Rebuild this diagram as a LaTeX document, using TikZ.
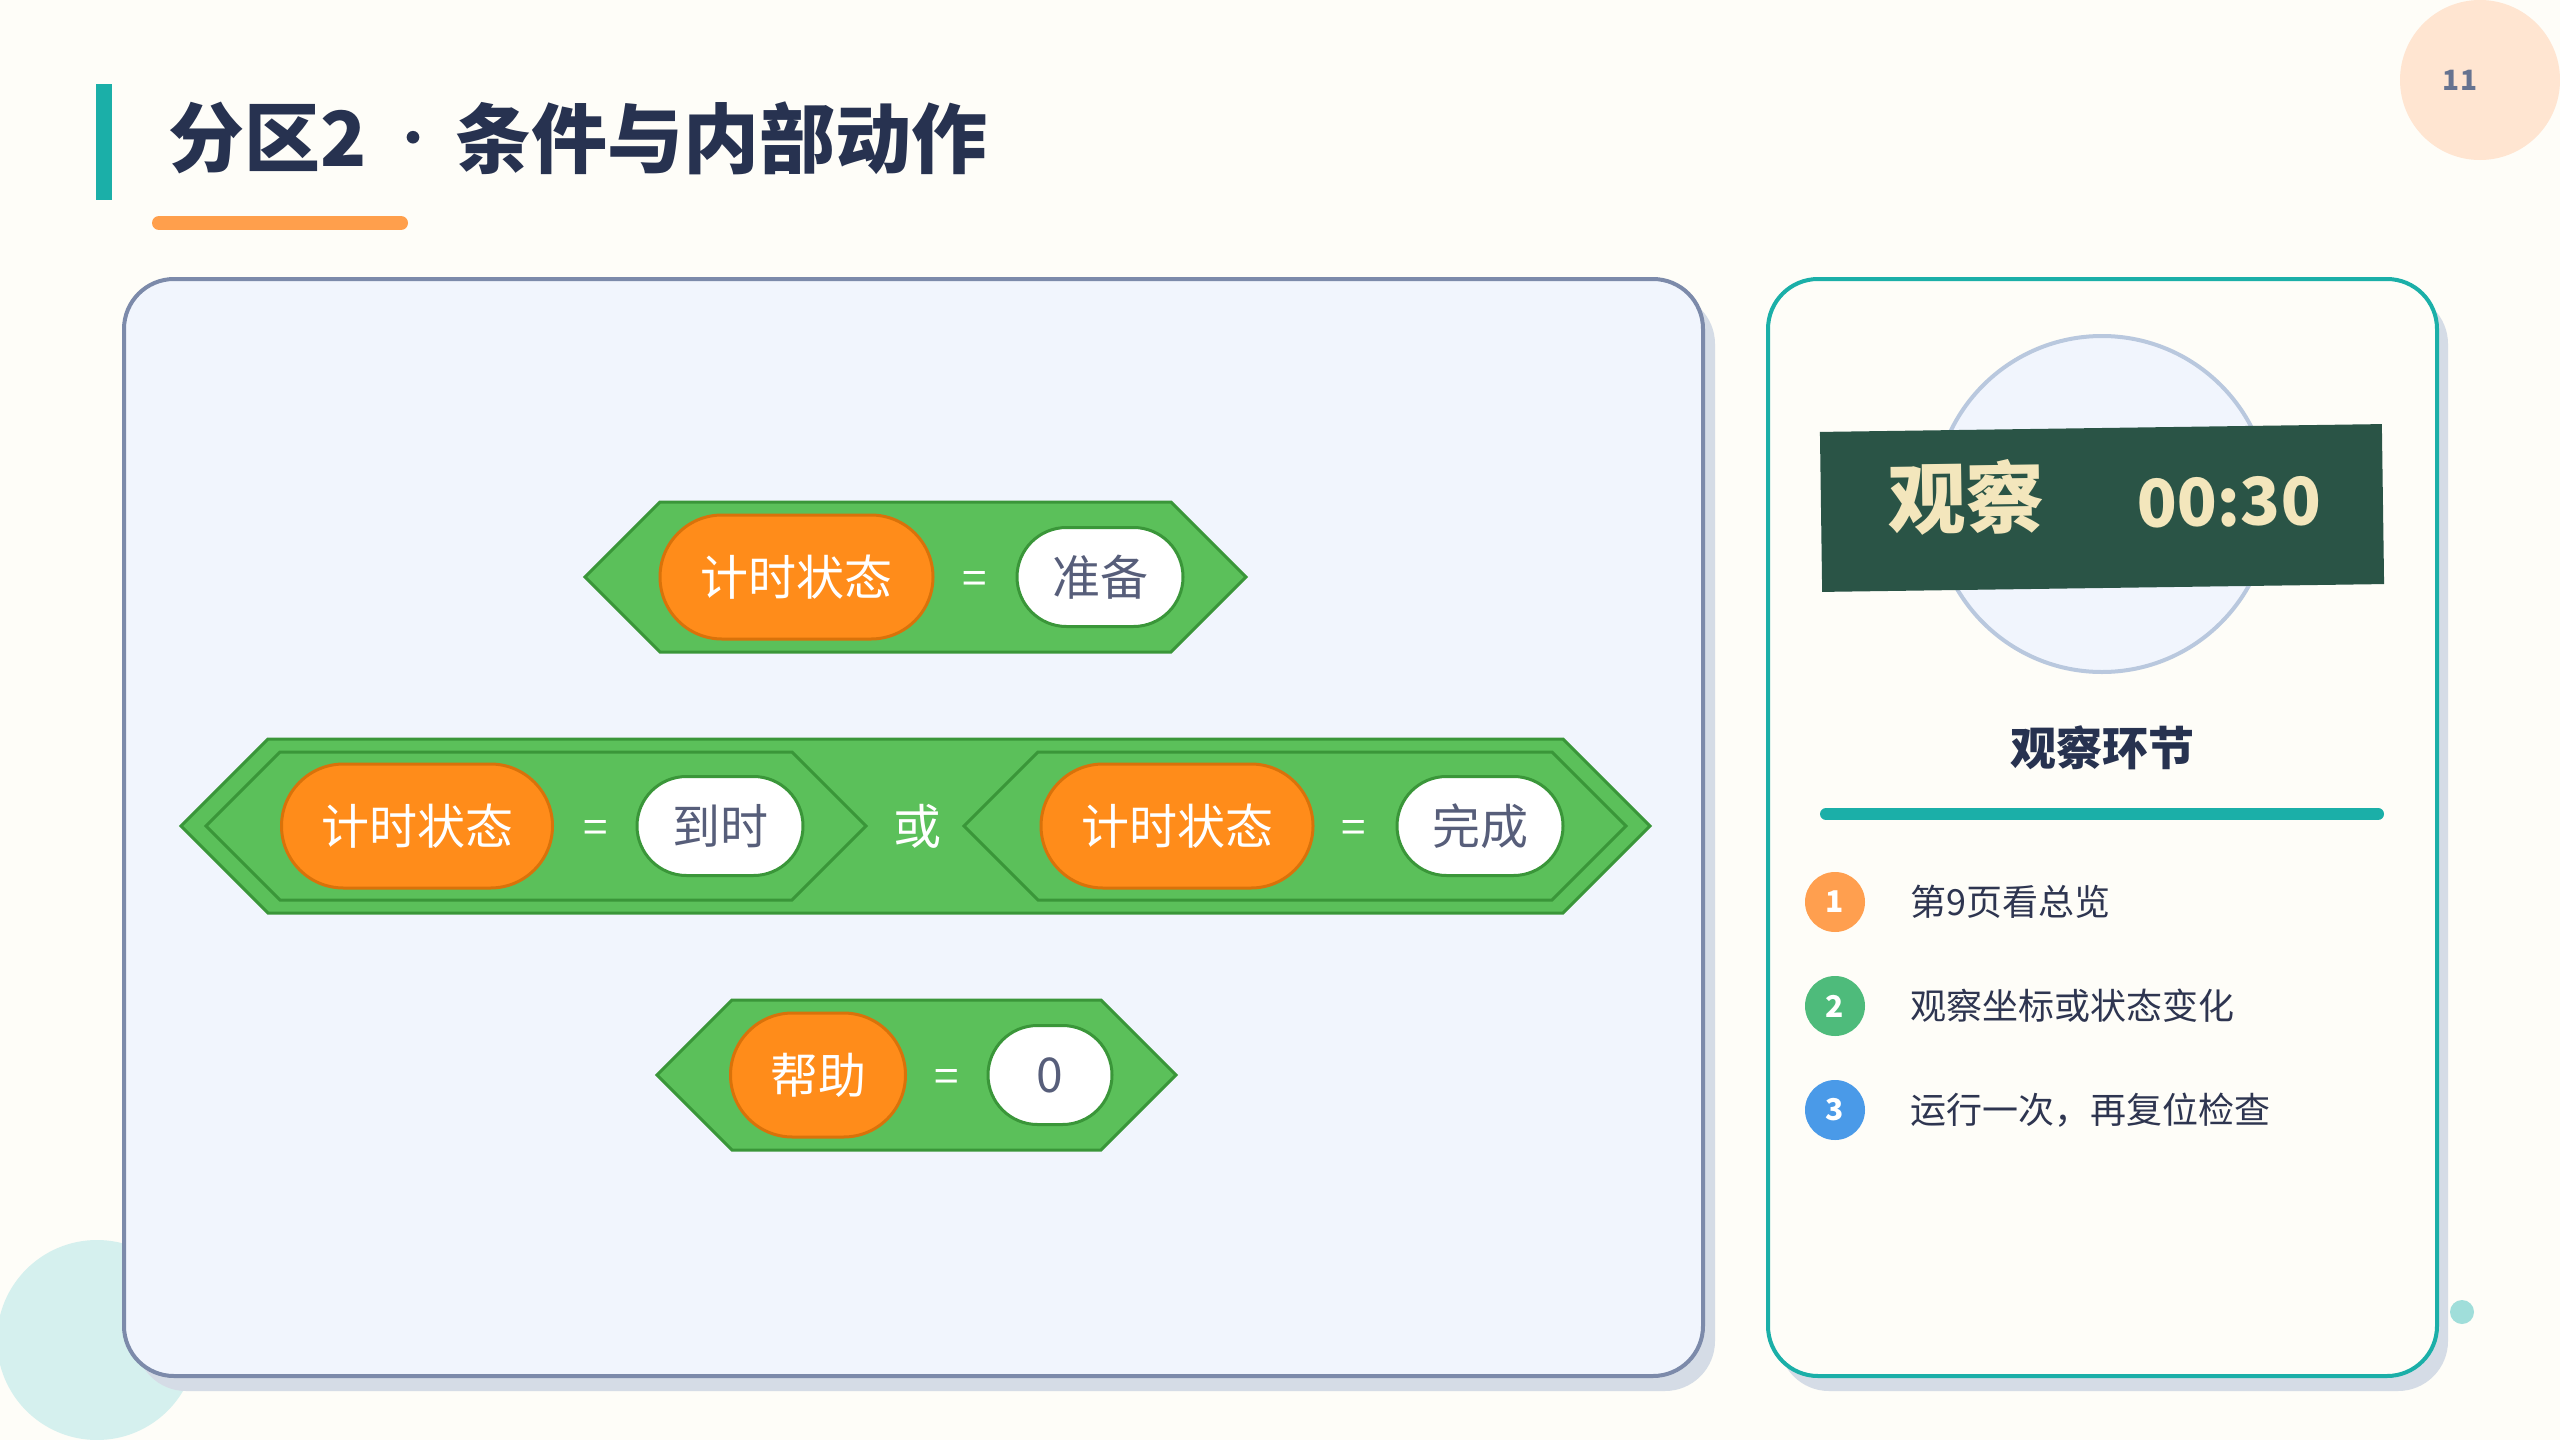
\documentclass[tikz,border=0pt]{standalone}
\usepackage{fontspec}
\setmainfont{Noto Sans CJK SC}
\usetikzlibrary{shapes.misc}
\definecolor{bgc}{HTML}{FEFDF8}
\definecolor{tealc}{HTML}{1BAFA8}
\definecolor{orangeline}{HTML}{FF9F4C}
\definecolor{navy}{HTML}{273250}
\definecolor{peach}{HTML}{FFE5D1}
\definecolor{pagenum}{HTML}{667390}
\definecolor{lightteal}{HTML}{D5F0EE}
\definecolor{dotc}{HTML}{A0DEDA}
\definecolor{panelfill}{HTML}{F1F5FD}
\definecolor{panelborder}{HTML}{7C8AAA}
\definecolor{shadowc}{HTML}{D5DCE6}
\definecolor{sgreen}{HTML}{5BC05A}
\definecolor{sgreendk}{HTML}{3A9639}
\definecolor{sorange}{HTML}{FF8C1A}
\definecolor{sorangedk}{HTML}{D9720A}
\definecolor{wtext}{HTML}{575E7A}
\definecolor{bannerc}{HTML}{2A5446}
\definecolor{bannertext}{HTML}{F3E6BC}
\definecolor{circfill}{HTML}{F1F5FD}
\definecolor{circborder}{HTML}{B9C8DE}
\definecolor{itemone}{HTML}{FF9F4F}
\definecolor{itemtwo}{HTML}{4EBB7B}
\definecolor{itemthree}{HTML}{4A9AE8}
\definecolor{itemtext}{HTML}{2E3550}
\tikzset{
  hexa/.style={fill=sgreen, draw=sgreendk, line width=3pt, line join=miter},
  opill/.style={rounded rectangle, fill=sorange, draw=sorangedk, line width=3pt, text=white,
    font=\fontsize{48}{48}\selectfont, inner sep=0pt, minimum height=124pt},
  wpill/.style={rounded rectangle, fill=white, draw=sgreendk, line width=3pt, text=wtext,
    font=\fontsize{48}{48}\selectfont, inner sep=0pt, minimum height=99pt},
  eqsign/.style={text=white, font=\fontsize{44}{44}\selectfont, inner sep=0pt, yshift=-6pt},
  itemcirc/.style={circle, minimum size=60pt, inner sep=0pt, text=white, font=\bfseries\fontsize{30}{30}\selectfont},
  itemlabel/.style={anchor=west, inner sep=0pt, text=itemtext, font=\fontsize{36}{36}\selectfont},
  panelshadow/.style={fill=shadowc, rounded corners=50pt},
}
\newcommand{\hexblock}[4]{%
  \draw[hexa] ({#1-#3},#2) -- ({#1-#3+#4},{#2-#4}) -- ({#1+#3-#4},{#2-#4}) -- ({#1+#3},#2)
    -- ({#1+#3-#4},{#2+#4}) -- ({#1-#3+#4},{#2+#4}) -- cycle;}
\begin{document}
\begin{tikzpicture}[x=1pt,y=-1pt]
\useasboundingbox (0,0) rectangle (2560,1440);
\clip (0,0) rectangle (2560,1440);
\fill[bgc] (0,0) rectangle (2560,1440);
% decorations
\fill[peach] (2480,80) circle (80);
\node[text=pagenum, font=\bfseries\fontsize{28}{28}\selectfont, inner sep=0pt] (pnum) at (2460,80) {11};
\fill[lightteal] (97,1340) circle (100);
\fill[dotc] (2462,1312) circle (12);
% title
\fill[tealc] (96,84) rectangle (112,200);
\node[anchor=west, inner sep=0pt, text=navy, font=\bfseries\fontsize{76}{76}\selectfont] (t1) at (168,138) {分区2};
\node[inner sep=0pt, text=navy, font=\fontsize{60}{60}\selectfont] (t2) at (413,146) {·};
\node[anchor=west, inner sep=0pt, text=navy, font=\bfseries\fontsize{76}{76}\selectfont] (t3) at (455,138) {条件与内部动作};
\draw[orangeline, line width=14pt, line cap=round] (159,223) -- (401,223);
% panels
\fill[panelshadow] (136,294) rectangle (1715,1391);
\draw[fill=panelfill, draw=panelborder, line width=4pt, rounded corners=50pt] (124,279) rectangle (1703,1376);
\fill[panelshadow] (1779,294) rectangle (2448,1391);
\draw[fill=bgc, draw=tealc, line width=4pt, rounded corners=50pt] (1768,279) rectangle (2437,1376);
% block 1
\hexblock{915.5}{577}{330.5}{75}
\node[opill, minimum width=273pt] (o1) at (796.5,577) {计时状态};
\node[eqsign] (e1) at (975,577) {=};
\node[wpill, minimum width=166pt] (w1) at (1100,577) {准备};
% block 2
\hexblock{915.5}{826}{734.5}{87}
\hexblock{536}{826}{330}{74}
\hexblock{1295}{826}{331}{74}
\node[opill, minimum width=271pt] (o2) at (417,826) {计时状态};
\node[eqsign] (e2) at (596,826) {=};
\node[wpill, minimum width=166pt] (w2) at (720,826) {到时};
\node[text=white, font=\fontsize{48}{48}\selectfont, inner sep=0pt] (or) at (917,826) {或};
\node[opill, minimum width=272pt] (o3) at (1177,826) {计时状态};
\node[eqsign] (e3) at (1354,826) {=};
\node[wpill, minimum width=166pt] (w3) at (1480,826) {完成};
% block 3
\hexblock{916.5}{1075}{259.5}{75}
\node[opill, minimum width=175pt] (o4) at (818,1075) {帮助};
\node[eqsign] (e4) at (947,1075) {=};
\node[wpill, minimum width=124pt] (w4) at (1050,1075) {0};
% right panel
\draw[fill=circfill, draw=circborder, line width=4pt] (2102,504) circle (168);
\node[fill=bannerc, minimum width=562pt, minimum height=160pt, rotate=0.8, inner sep=0pt] (banner) at (2102,508) {};
\node[rotate=0.8, inner sep=0pt, text=bannertext, font=\bfseries\fontsize{78}{78}\selectfont] (bt1) at (1966,497) {观察};
\node[rotate=0.8, inner sep=0pt, text=bannertext, font=\bfseries\fontsize{66}{66}\selectfont] (bt2) at (2229,502) {00:30};
\node[inner sep=0pt, text=navy, font=\bfseries\fontsize{46}{46}\selectfont] (sec) at (2102,748) {观察环节};
\draw[tealc, line width=12pt, line cap=round] (1826,814) -- (2378,814);
\node[itemcirc, fill=itemone] (c1) at (1835,902) {1};
\node[itemcirc, fill=itemtwo] (c2) at (1835,1006) {2};
\node[itemcirc, fill=itemthree] (c3) at (1835,1110) {3};
\node[itemlabel] (l1) at (1910,902) {第9页看总览};
\node[itemlabel] (l2) at (1910,1006) {观察坐标或状态变化};
\node[itemlabel] (l3) at (1910,1110) {运行一次，再复位检查};
\end{tikzpicture}
\end{document}
